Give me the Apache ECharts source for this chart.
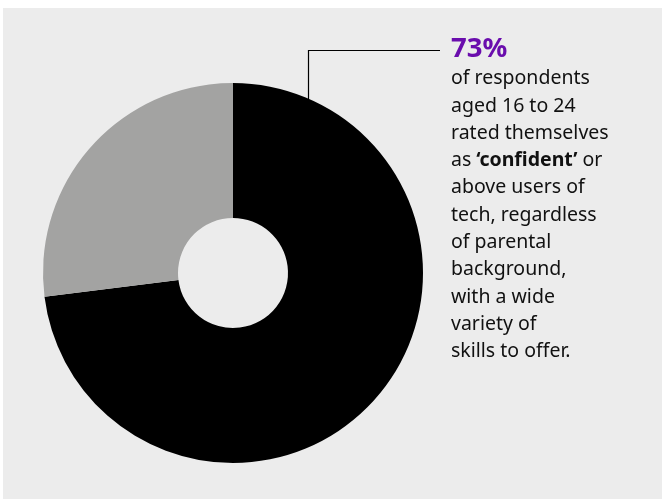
<!DOCTYPE html>
<html>
<head>
<meta charset="utf-8">
<script src="https://cdn.jsdelivr.net/npm/echarts@6/dist/echarts.min.js"></script>
<style>html,body{margin:0;padding:0;background:#fff}#c{width:662px;height:499px}</style>
</head>
<body>
<div id="c"></div>
<script>
var categories = ['Confident or above', 'Other'];
var values = [73, 27];
var colors = ['#000000', '#a3a3a2'];
var headline = '73%';
var bodyLines = [
  [['of respondents', 'n']],
  [['aged 16 to 24', 'n']],
  [['rated themselves', 'n']],
  [['as ', 'n'], ['\u2018confident\u2019', 'b'], [' or', 'n']],
  [['above users of', 'n']],
  [['tech, regardless', 'n']],
  [['of parental', 'n']],
  [['background,', 'n']],
  [['with a wide', 'n']],
  [['variety of', 'n']],
  [['skills to offer.', 'n']]
];

var chart = echarts.init(document.getElementById('c'));
var FONT = '"Noto Sans", sans-serif';
var bodyStr = bodyLines.map(function (l) {
  return l.map(function (p) { return '{' + p[1] + '|' + p[0] + '}'; }).join('');
}).join('\n');

chart.setOption({
  backgroundColor: '#ffffff',
  animation: false,
  graphic: [
    { type: 'rect', z: -10, shape: { x: 3, y: 8, width: 670, height: 500 }, style: { fill: '#ececec' }, silent: true },
    { type: 'polyline', z: 5, shape: { points: [[308.5, 100], [308.5, 50.5], [440, 50.5]] }, style: { stroke: '#000', lineWidth: 1.2, fill: null } },
    {
      type: 'text', z: 10, x: 451, y: 35,
      style: {
        text: headline, fontFamily: FONT, fontSize: 27.5, fontWeight: 'bold', fill: '#6a0dad'
      }
    },
    {
      type: 'text', z: 10, x: 451, y: 65,
      style: {
        text: bodyStr,
        rich: {
          n: { fontFamily: FONT, fontSize: 19.5, fill: '#111', lineHeight: 27.3 },
          b: { fontFamily: FONT, fontSize: 19.5, fontWeight: 'bold', fill: '#111', lineHeight: 27.3 }
        }
      }
    }
  ],
  series: [{
    type: 'pie',
    center: [233, 273],
    radius: [55, 190],
    startAngle: 90,
    clockwise: true,
    label: { show: false },
    labelLine: { show: false },
    emphasis: { disabled: true },
    itemStyle: { borderWidth: 0 },
    data: categories.map(function (c, i) {
      return { name: c, value: values[i], itemStyle: { color: colors[i] } };
    })
  }]
});
</script>
</body>
</html>
